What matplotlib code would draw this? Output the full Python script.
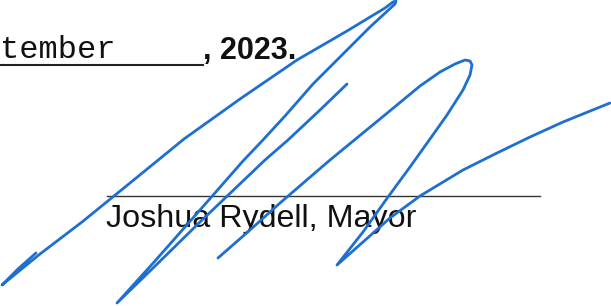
import matplotlib
matplotlib.use('Agg')
import matplotlib.pyplot as plt

# ── signature strokes (pixel coords, y grows downwards) ──────────────────────
# first stroke: small hook, long rise to the top, back down, thin return
stroke1_x = [36, 18, 2, 40, 82, 130, 184, 240, 297, 347, 385, 393, 396, 395,
             370, 345, 313, 285, 262, 243, 200, 155, 117,
             150, 200, 265, 288, 320, 347]
stroke1_y = [253, 269, 285, 254, 222, 183, 139, 99, 60, 31, 8, 2, 1, 4,
             27, 52, 84, 116, 141, 161, 210, 261, 303,
             271, 222, 160, 140, 110, 84]

# second stroke: rise to the loop, down below the line, long tail to the right
stroke2_x = [218, 250, 280, 330, 380, 420, 440, 455, 465, 470, 472, 470, 463,
             447, 430, 410, 388, 363, 337,
             363, 390, 420, 463, 497, 530, 563, 610]
stroke2_y = [258, 230, 203, 160, 119, 86, 72, 64, 60, 61, 65, 75, 90,
             115, 139, 167, 197, 232, 265,
             242, 218, 196, 170, 153, 137, 122, 103]

INK = '#1f6fd0'

fig = plt.figure(figsize=(6.11, 3.06), dpi=100)
ax = fig.add_axes([0, 0, 1, 1])
ax.set_xlim(0, 611)
ax.set_ylim(306, 0)
ax.axis('off')

# ── printed text ──────────────────────────────────────────────────────────────
ax.text(0, 58, 'tember', family='Liberation Mono', fontsize=23,
        color='#111111', va='baseline', ha='left')
ax.plot([0, 203], [65, 65], color='#222222', lw=1.5)
ax.text(203, 59, ', 2023.', family='Liberation Sans', fontweight='bold',
        fontsize=22, color='#111111', va='baseline', ha='left')

ax.plot([107, 540], [196, 196], color='#333333', lw=1.0)
ax.text(106, 227, 'Joshua Rydell, Mayor', family='Liberation Sans',
        fontsize=23.2, color='#111111', va='baseline', ha='left')

# ── ink ───────────────────────────────────────────────────────────────────────
for sx, sy in [(stroke1_x, stroke1_y), (stroke2_x, stroke2_y)]:
    ax.plot(sx, sy, color=INK, lw=2.0, solid_joinstyle='round',
            solid_capstyle='round', zorder=5)

fig.savefig('out.png', dpi=100)
plt.close()
